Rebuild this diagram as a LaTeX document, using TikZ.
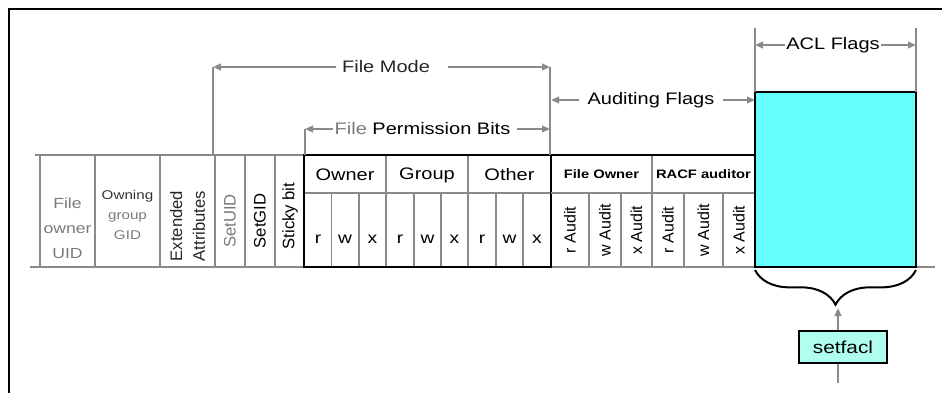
\documentclass[tikz,border=0pt]{standalone}
\usepackage{fontspec}
\setmainfont[FakeStretch=1.2]{Liberation Sans}
\newfontfamily\plainsans{Liberation Sans}
\usetikzlibrary{arrows.meta,decorations.pathreplacing}
\definecolor{rulegray}{HTML}{8A8A8A}
\definecolor{textgray}{HTML}{7A7A7A}
\definecolor{aclcyan}{HTML}{66FFFF}
\definecolor{cmdcyan}{HTML}{B0FFEE}

\begin{document}
\begin{tikzpicture}[x=.75pt,y=-.75pt,
	grid/.style={draw=rulegray,line width=1.3pt},
	dim/.style={draw=rulegray,line width=1.9pt,-{Triangle[length=6pt,width=5pt]}},
	heavy/.style={draw=black,line width=1.6pt},
	label/.style={font=\fontsize{12.5}{14}\selectfont,inner sep=2pt},
	bit/.style={font=\fontsize{12}{13}\selectfont,inner sep=0pt},
	side/.style={font=\plainsans\fontsize{12.5}{14}\selectfont,inner sep=0pt,align=center},
	audit/.style={font=\plainsans\fontsize{12}{13}\selectfont,inner sep=0pt,rotate=90},
	who/.style={font=\bfseries\fontsize{9.2}{10}\selectfont,inner sep=0pt}]
	\useasboundingbox (0,0) rectangle (942,393);
	% page frame
	\draw[line width=1.1pt] (9,393)--(9,9)--(942,9);
	% left part of the record
	\draw[grid] (35,155)--(304,155);
	\draw[grid] (30,267)--(935,267);
	\foreach \xx in {40,95,160,215,245,275}
	{
		\draw[grid] (\xx,155)--(\xx,267);
	}
	\node[inner sep=0pt,align=center,text=textgray,font=\fontsize{11}{18.8}\selectfont] (uid) at (67.5,228) {File\\owner\\UID};
	\node[inner sep=0pt,align=center,text=textgray,font=\fontsize{9.5}{15}\selectfont] (gid) at (127.5,215) {{\color{black!80}Owning}\\group\\GID};
	\node[side,rotate=90,text=black!85,font=\plainsans\fontsize{12.5}{17}\selectfont] (ext) at (187.5,226) {Extended\\Attributes};
	\node[side,rotate=90,text=textgray] (suid) at (230,221) {SetUID};
	\node[side,rotate=90] (sgid) at (260,221) {SetGID};
	\node[side,rotate=90] (sticky) at (290,216) {Sticky bit};
	% permission bits
	\draw[grid] (304,193)--(551,193);
	\foreach \xx in {331.5,359,414,441,496,523}
	{
		\draw[grid] (\xx,193)--(\xx,267);
	}
	\draw[grid] (386,155)--(386,267);
	\draw[grid] (468,155)--(468,267);
	\draw[heavy] (304,155) rectangle (551,267);
	\node[label] (owner) at (345,175) {Owner};
	\node[label] (group) at (427,175) {Group};
	\node[label] (other) at (509.5,175) {Other};
	\foreach \xx/\bb in {318/r,345/w,372.5/x,400/r,427.5/w,454.5/x,482/r,509.5/w,537/x}
	{
		\node[bit] at (\xx,239) {\bb};
	}
	% auditing bits
	\draw[grid] (551,193)--(755,193);
	\foreach \xx in {589,621,684,723}
	{
		\draw[grid] (\xx,193)--(\xx,267);
	}
	\draw[grid] (652,155)--(652,267);
	\draw[heavy] (551,155)--(755,155);
	\node[who] (fown) at (601.5,174) {File Owner};
	\node[who] (racf) at (703.5,174) {RACF auditor};
	\foreach \xx/\bb in {570/r,605/w,636.5/x,668/r,703.5/w,739/x}
	{
		\node[audit] at (\xx,230) {\bb\ Audit};
	}
	% acl flags
	\draw[heavy,fill=aclcyan] (755,92) rectangle (916,267);
	% dimension lines
	\coordinate (fmL) at (213,67);
	\coordinate (fmR) at (550,67);
	\coordinate (fpL) at (305,129);
	\coordinate (fpR) at (550,129);
	\coordinate (afL) at (551,100);
	\coordinate (afR) at (755,100);
	\coordinate (aclL) at (755,45);
	\coordinate (aclR) at (916,45);
	\draw[grid,line width=1.6pt] (fmL)--(213,155);
	\draw[grid,line width=1.6pt] (fmR)--(550,155);
	\draw[grid,line width=1.6pt] (fpL)--(305,155);
	\draw[grid,line width=1.6pt] (755,28)--(755,92);
	\draw[grid,line width=1.6pt] (916,28)--(916,92);
	\node[label,text=black!85,inner xsep=4pt] (fmode) at (386,67) {File Mode};
	\node[label,inner xsep=1pt] (fperm) at (422.5,129) {{\color{textgray}File} Permission Bits};
	\node[label,inner xsep=6pt] (aflags) at (651,100) {Auditing Flags};
	\node[label,inner xsep=1pt] (aclf) at (833,45) {ACL Flags};
	\draw[dim] (fmode)--(fmL);
	\draw[dim] ([xshift=9pt]fmode.east)--(fmR);
	\draw[dim] (fperm)--(fpL);
	\draw[dim] ([xshift=4pt]fperm.east)--(fpR);
	\draw[dim] (aflags)--(afL);
	\draw[dim] (aflags)--(afR);
	\draw[dim] (aclf)--(aclL);
	\draw[dim] (aclf)--(aclR);
	% setfacl
	\draw[line width=1.5pt,decorate,decoration={brace,amplitude=26pt}] (916,270)--(755,270);
	\coordinate (tip) at (838,308);
	\coordinate (src) at (838,383);
	\node[draw,line width=1.1pt,fill=cmdcyan,minimum width=66pt,minimum height=24pt,label,font=\fontsize{13}{15}\selectfont] (setfacl) at (843,347) {setfacl};
	\draw[dim] (setfacl.north -| tip)--(tip);
	\draw[dim,-] (src)--(setfacl.south -| tip);
\end{tikzpicture}
\end{document}
